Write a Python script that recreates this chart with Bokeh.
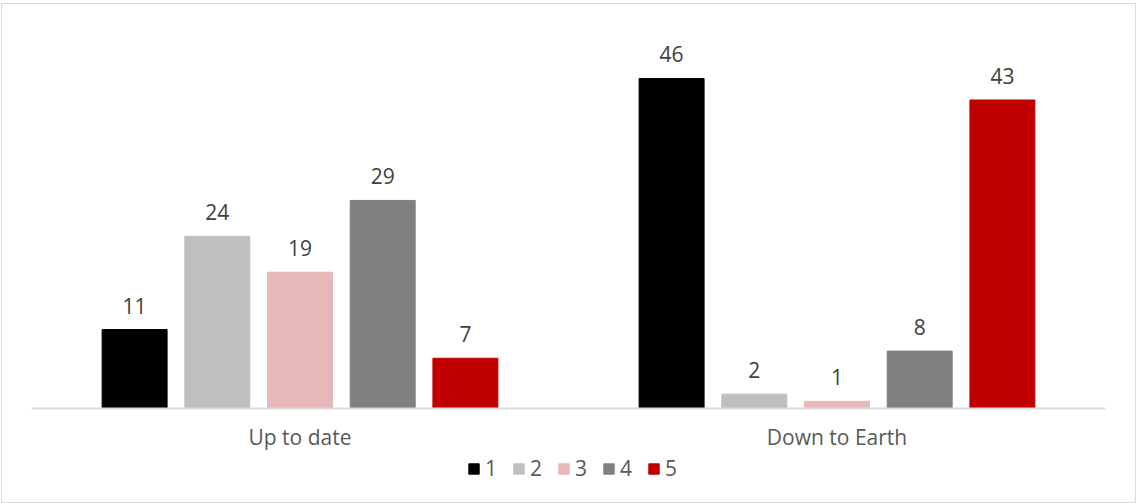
from bokeh.plotting import figure
from bokeh.layouts import column
from bokeh.models import ColumnDataSource, FactorRange, Range1d, Legend, LegendItem
from bokeh.transform import dodge
from bokeh.core.properties import value
from bokeh.embed import file_html
from bokeh.resources import INLINE

categories = ["Up to date", "Down to Earth"]
series_names = ["1", "2", "3", "4", "5"]
s1 = [11, 46]
s2 = [24, 2]
s3 = [19, 1]
s4 = [29, 8]
s5 = [7, 43]
colors = ["#000000", "#bfbfbf", "#e6b8b7", "#808080", "#c00000"]

series = [s1, s2, s3, s4, s5]
offsets = [-0.308, -0.154, 0.0, 0.154, 0.308]
bar_w = 0.121
FONT = "Open Sans"
FS = "21px"

p = figure(width=1133, height=449, output_backend="svg", toolbar_location=None,
           x_range=FactorRange(factors=categories), y_range=Range1d(0, 54.78),
           min_border_left=29, min_border_right=30, min_border_top=11, min_border_bottom=45)
p.outline_line_color = None
p.xgrid.visible = False
p.ygrid.visible = False
p.yaxis.visible = False

for vals, col, off in zip(series, colors, offsets):
    src = ColumnDataSource(dict(cat=categories, val=vals, lbl=[str(v) for v in vals]))
    p.vbar(x=dodge("cat", off, range=p.x_range), top="val", width=bar_w, bottom=0,
           source=src, fill_color=col, line_color=col)
    p.text(x=dodge("cat", off, range=p.x_range), y="val", text="lbl", source=src,
           text_align="center", text_baseline="alphabetic", y_offset=-24,
           text_font=value(FONT), text_font_size=FS, text_color="#404040")

ax = p.xaxis[0]
ax.axis_line_color = "#d9d9d9"
ax.axis_line_width = 2
ax.major_tick_line_color = None
ax.minor_tick_line_color = None
ax.major_label_text_font = FONT
ax.major_label_text_font_size = FS
ax.major_label_text_color = "#595959"
ax.major_label_standoff = 8

# legend strip
lg = figure(width=1133, height=49, output_backend="svg", toolbar_location=None,
            x_range=Range1d(0, 1), y_range=Range1d(0, 1),
            min_border_left=0, min_border_right=0, min_border_top=0, min_border_bottom=0)
lg.outline_line_color = None
lg.xgrid.visible = False
lg.ygrid.visible = False
lg.xaxis.visible = False
lg.yaxis.visible = False
items = []
for name, col in zip(series_names, colors):
    r = lg.vbar(x=[0.5], top=[-9], bottom=[-10], width=0.1, fill_color=col, line_color=col)
    items.append(LegendItem(label=name, renderers=[r]))
legend = Legend(items=items, orientation="horizontal", location=(436, 20),
                glyph_width=13, glyph_height=13, label_standoff=5, spacing=15,
                label_width=0, label_height=0,
                label_text_font=FONT, label_text_font_size=FS, label_text_color="#595959",
                border_line_color=None, background_fill_alpha=0, margin=0, padding=2)
lg.add_layout(legend)

layout = column(p, lg, spacing=0)
layout.styles = {"border": "1px solid #d9d9d9", "margin-left": "1px", "margin-top": "3px"}

open("out.html", "w").write(file_html(layout, INLINE))
